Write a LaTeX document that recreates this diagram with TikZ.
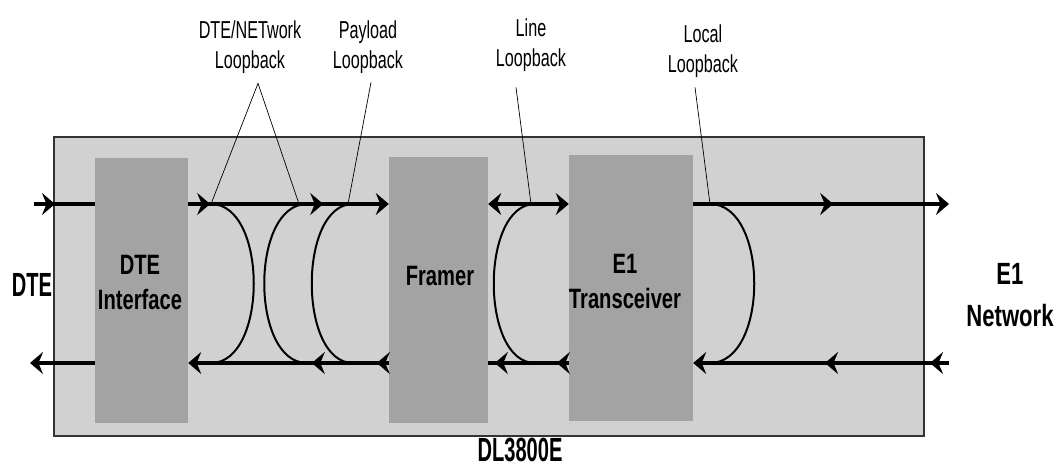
\documentclass[tikz,border=0pt]{standalone}
\usepackage{fontspec}
\setmainfont{Liberation Sans}
\newfontfamily\thinfont{Liberation Sans}[FakeStretch=0.66]
\newfontfamily\heavyfont{Liberation Sans}[FakeStretch=0.72]
\newfontfamily\bigfont{Liberation Sans}[FakeStretch=0.6]
\usepackage{tikz}
\usetikzlibrary{arrows.meta, decorations.markings, positioning, calc}

\definecolor{unitgray}{HTML}{D1D1D1}
\definecolor{chipgray}{HTML}{A3A3A3}

\begin{document}
\begin{tikzpicture}[x=1pt, y=-1pt, >={Stealth[length=13pt, width=22pt, inset=4.5pt]},
    unit/.style={draw=black!80, line width=1.5pt, fill=unitgray, inner sep=0pt},
    chip/.style={fill=chipgray, inner sep=0pt},
    chiplabel/.style={font=\heavyfont\bfseries\fontsize{28}{35}\selectfont, align=center, inner sep=0pt},
    biglabel/.style={font=\bigfont\bfseries\fontsize{33.5}{40}\selectfont, align=center, inner sep=0pt},
    netlabel/.style={font=\heavyfont\bfseries\fontsize{30.7}{42}\selectfont, align=center, inner sep=0pt},
    tag/.style={font=\thinfont\fontsize{24.5}{29.5}\selectfont, align=center, inner sep=0pt},
    bus/.style={line width=3.6pt},
    mk/.style={postaction={decorate, decoration={markings, mark=at position #1 with {\arrow{>}}}}},
    loopback/.style={line width=2pt},
    pointer/.style={line width=0.7pt}]
  \useasboundingbox (0,0) rectangle (1063,467);

  % DL3800E unit and its blocks
  \node[unit, minimum width=870pt, minimum height=299pt] (dl) at (489,286.5) {};
  \node[chip, minimum width=93pt, minimum height=265pt] (dteif) at (141.5,290.5) {};
  \node[chip, minimum width=99pt, minimum height=266pt] (framer) at (438.5,290) {};
  \node[chip, minimum width=124pt, minimum height=266pt] (xcvr) at (631,288) {};

  \node[chiplabel] (dteiflb) at (140,282.5) {DTE\\Interface};
  \node[chiplabel] (framerlb) at (440,276) {Framer};
  \node[chiplabel] (xcvrlb) at (625,281.5) {E1\\Transceiver};

  \node[biglabel] (dte) at (32,285) {DTE};
  \node[netlabel] (e1net) at (1010,295) {E1\\Network};
  \node[biglabel] (dlname) at (520,450) {DL3800E};

  % transmit / receive paths
  \coordinate (inT) at (34,204);
  \coordinate (outT) at (949,204);
  \coordinate (inB) at (949,363);
  \coordinate (outB) at (30,363);

  \draw[bus, mk=21pt] (inT) -- (dteif.west |- inT);
  \draw[bus, ->, mk=22pt, mk=135pt] (dteif.east |- inT) -- (framer.west |- inT);
  \draw[bus, <->] (framer.east |- inT) -- (xcvr.west |- inT);
  \draw[bus, ->, mk=140pt] (xcvr.east |- inT) -- (outT);

  \draw[bus, ->] (dteif.west |- outB) -- (outB);
  \draw[bus, ->, mk=12pt, mk=77pt] (framer.west |- outB) -- (dteif.east |- outB);
  \draw[bus, mk=12pt, mk=74pt] (xcvr.west |- outB) -- (framer.east |- outB);
  \draw[bus, ->, mk=19pt, mk=124pt] (inB) -- (xcvr.east |- outB);

  % loopbacks
  \coordinate (lpA) at (211,204); \coordinate (lpAb) at (211,363);
  \coordinate (lpB) at (307,204); \coordinate (lpBb) at (307,363);
  \coordinate (lpC) at (353,204); \coordinate (lpCb) at (353,363);
  \coordinate (lpD) at (535,204); \coordinate (lpDb) at (535,363);
  \coordinate (lpE) at (710,204); \coordinate (lpEb) at (710,363);

  \draw[loopback] (lpA) .. controls +(57,0) and +(57,0) .. (lpAb);
  \draw[loopback] (lpB) .. controls +(-57,0) and +(-57,0) .. (lpBb);
  \draw[loopback] (lpC) .. controls +(-55,0) and +(-55,0) .. (lpCb);
  \draw[loopback] (lpD) .. controls +(-55,0) and +(-55,0) .. (lpDb);
  \draw[loopback] (lpE) .. controls +(59,0) and +(59,0) .. (lpEb);

  % callouts
  \node[tag] (dnlb) at (250,47) {DTE/NETwork\\Loopback};
  \node[tag] (pllb) at (368,47) {Payload\\Loopback};
  \node[tag] (lnlb) at (531,45) {Line\\Loopback};
  \node[tag] (lclb) at (703,51) {Local\\Loopback};

  \coordinate (dnapex) at ([xshift=8pt, yshift=-10pt]dnlb.south);
  \draw[pointer] (lpA) -- (dnapex) -- ([xshift=-8pt]lpB);
  \draw[pointer] ([xshift=3pt, yshift=-9pt]pllb.south) -- ([xshift=-5pt]lpC);
  \draw[pointer] ([xshift=-15pt, yshift=-16pt]lnlb.south) -- ([xshift=-4pt]lpD);
  \draw[pointer] ([xshift=-8pt, yshift=-10pt]lclb.south) -- (lpE);
\end{tikzpicture}
\end{document}
